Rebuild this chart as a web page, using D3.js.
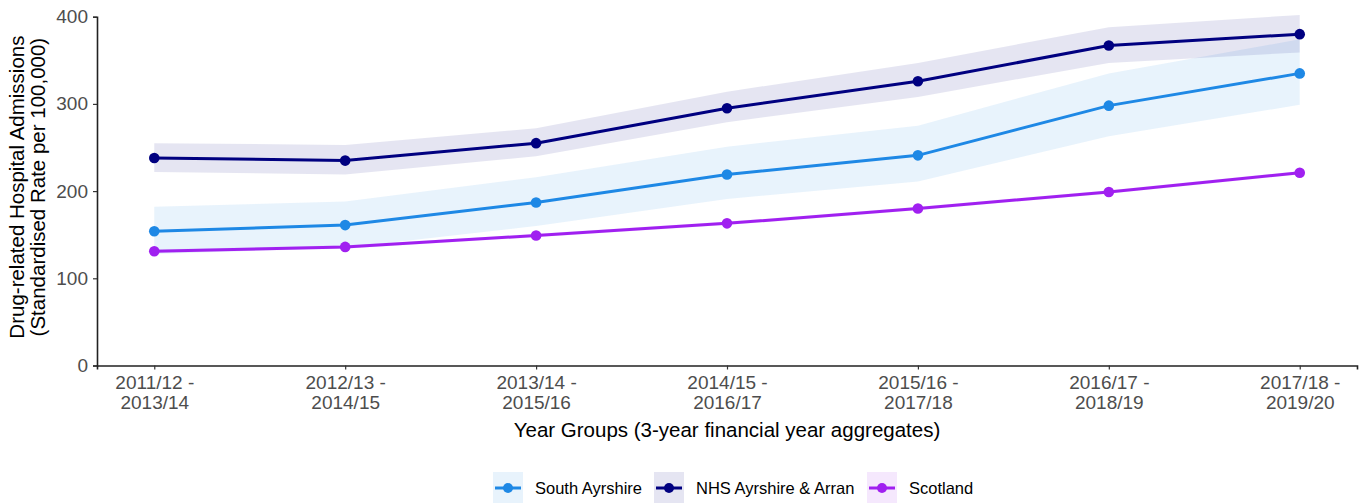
<!DOCTYPE html>
<html>
<head>
<meta charset="utf-8">
<script src="https://cdn.jsdelivr.net/npm/d3@7"></script>
<style>
  body { margin: 0; background: #fff; }
  text { font-family: "Liberation Sans", Arial, sans-serif; }
</style>
</head>
<body>
<div id="chart"></div>
<script>
// year groups on the x axis (two-line labels)
var yearGroups = ["2011/12 - 2013/14", "2012/13 - 2014/15", "2013/14 - 2015/16",
                  "2014/15 - 2016/17", "2015/16 - 2017/18", "2016/17 - 2018/19", "2017/18 - 2019/20"];

// rates per 100,000 with confidence limits
var southAyrshire      = [154, 161, 187, 219, 241, 298, 335];
var southAyrshireLower = [128, 135, 160, 191, 211, 263, 299];
var southAyrshireUpper = [182, 188, 216, 251, 275, 335, 374];

var nhsAyrshire      = [238, 235, 255, 295, 326, 367, 380];
var nhsAyrshireLower = [222, 219, 240, 279, 308, 347, 359];
var nhsAyrshireUpper = [255, 253, 272, 314, 347, 388, 402];

var scotland      = [131, 136, 149, 163, 180, 199, 221];
var scotlandLower = [129, 134, 147, 161, 178, 197, 219];
var scotlandUpper = [133, 138, 151, 165, 182, 201, 223];

var yTicks = [0, 100, 200, 300, 400];

var series = [
  {name: "South Ayrshire", color: "#1e88e5", values: southAyrshire, lower: southAyrshireLower, upper: southAyrshireUpper},
  {name: "NHS Ayrshire & Arran", color: "#000080", values: nhsAyrshire, lower: nhsAyrshireLower, upper: nhsAyrshireUpper},
  {name: "Scotland", color: "#a020f0", values: scotland, lower: scotlandLower, upper: scotlandUpper}
];

var W = 1362, H = 503;
var margin = {top: 16.7, right: 5, bottom: 137.5, left: 97};
var width = W - margin.left - margin.right,
    height = H - margin.top - margin.bottom;

var svg = d3.select("#chart").append("svg")
    .attr("width", W)
    .attr("height", H);

var g = svg.append("g")
    .attr("transform", "translate(" + margin.left + "," + margin.top + ")");

var x = d3.scalePoint().domain(yearGroups).range([0, width]).padding(0.3);
var y = d3.scaleLinear().domain([0, 400]).range([height, 0]);

// ribbons
var area = d3.area()
    .x(function(d) { return x(d.year); })
    .y0(function(d) { return y(d.lo); })
    .y1(function(d) { return y(d.hi); });

series.forEach(function(s) {
  var pts = yearGroups.map(function(yr, i) {
    return {year: yr, v: s.values[i], lo: s.lower[i], hi: s.upper[i]};
  });
  s.pts = pts;
  g.append("path")
    .datum(pts)
    .attr("d", area)
    .attr("fill", s.color)
    .attr("fill-opacity", 0.1);
});

// lines and points
var line = d3.line()
    .x(function(d) { return x(d.year); })
    .y(function(d) { return y(d.v); });

series.forEach(function(s) {
  g.append("path")
    .datum(s.pts)
    .attr("d", line)
    .attr("fill", "none")
    .attr("stroke", s.color)
    .attr("stroke-width", 3);
  g.selectAll(null)
    .data(s.pts)
    .enter().append("circle")
    .attr("cx", function(d) { return x(d.year); })
    .attr("cy", function(d) { return y(d.v); })
    .attr("r", 5.3)
    .attr("fill", s.color);
});

// axes
var yAxis = g.append("g")
    .call(d3.axisLeft(y).tickValues(yTicks).tickSize(4).tickPadding(5));
var xAxis = g.append("g")
    .attr("transform", "translate(0," + height + ")")
    .call(d3.axisBottom(x).tickSize(4).tickPadding(4).tickFormat(""));

[yAxis, xAxis].forEach(function(ax) {
  ax.attr("font-size", null).attr("font-family", null);
  ax.select(".domain").attr("stroke", "#222").attr("stroke-width", 1.6);
  ax.selectAll(".tick line").attr("stroke", "#333").attr("stroke-width", 1.2);
});
yAxis.selectAll(".tick text")
    .attr("fill", "#4d4d4d")
    .style("font-size", "19px");

// two-line x tick labels
xAxis.selectAll(".tick").each(function(d) {
  var parts = d.split(" - ");
  var t = d3.select(this).select("text")
      .attr("fill", "#4d4d4d")
      .style("font-size", "19px")
      .attr("y", 0)
      .attr("dy", null);
  t.text(null);
  t.append("tspan").attr("x", 0).attr("y", 23).text(parts[0] + " -");
  t.append("tspan").attr("x", 0).attr("y", 43).text(parts[1]);
});

// axis titles
svg.append("text")
    .attr("x", margin.left + width / 2)
    .attr("y", 437)
    .attr("text-anchor", "middle")
    .attr("fill", "#000")
    .style("font-size", "20.5px")
    .text("Year Groups (3-year financial year aggregates)");

var yTitle = svg.append("text")
    .attr("transform", "translate(0," + (margin.top + height / 2 - 4) + ") rotate(-90)")
    .attr("text-anchor", "middle")
    .attr("fill", "#000")
    .style("font-size", "20.5px");
yTitle.append("tspan").attr("x", 0).attr("y", 24).text("Drug-related Hospital Admissions");
yTitle.append("tspan").attr("x", 0).attr("y", 45).text("(Standardised Rate per 100,000)");

// legend
var legendX = [493, 654, 867];
var legend = svg.append("g");
series.forEach(function(s, i) {
  var lg = legend.append("g").attr("transform", "translate(" + legendX[i] + ",472)");
  lg.append("rect").attr("width", 30).attr("height", 31)
    .attr("fill", s.color).attr("fill-opacity", 0.1);
  lg.append("line").attr("x1", 2).attr("x2", 28).attr("y1", 16).attr("y2", 16)
    .attr("stroke", s.color).attr("stroke-width", 3);
  lg.append("circle").attr("cx", 15).attr("cy", 16).attr("r", 5).attr("fill", s.color);
  lg.append("text").attr("x", 42).attr("y", 22)
    .attr("fill", "#000")
    .style("font-size", "16.5px")
    .text(s.name);
});
</script>
</body>
</html>
